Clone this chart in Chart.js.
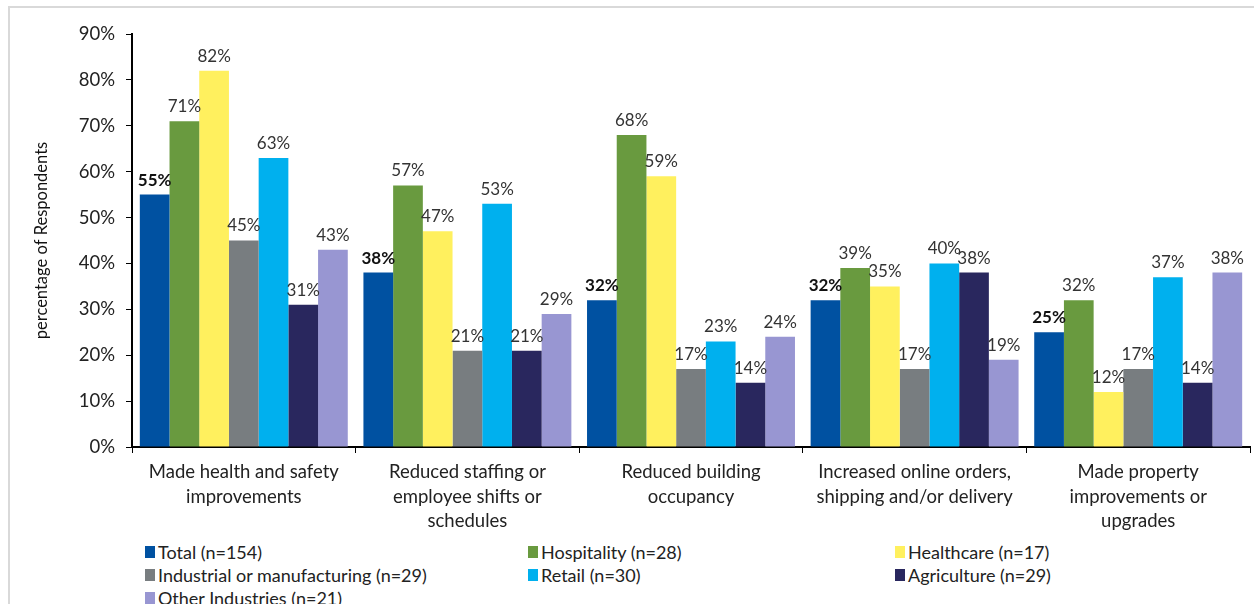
<!DOCTYPE html>
<html>
<head>
<meta charset="utf-8">
<script src="https://cdn.jsdelivr.net/npm/chart.js@4.4.0/dist/chart.umd.min.js"></script>
<style>
  body { margin: 0; background: #fff; font-family: Lato, "Open Sans", sans-serif; }
  #wrap { position: relative; width: 1254px; height: 604px; overflow: hidden; }
  #frame { position: absolute; left: 8px; top: 6px; width: 1250px; height: 610px; border: 2px solid #d9d9d9; box-sizing: border-box; }
  #chartBox { position: absolute; left: 0; top: 0; width: 1254px; height: 540px; }
  #legend { position: absolute; left: 145px; top: 541px; display: grid; grid-template-columns: 383px 367px 300px; row-gap: 1px; font-size: 18px; color: #222; }
  #legend div { display: flex; align-items: center; height: 22px; white-space: nowrap; }
  #legend span { display: inline-block; width: 10px; height: 12px; margin-right: 3px; }
</style>
</head>
<body>
<div id="wrap">
  <div id="frame"></div>
  <div id="chartBox"><canvas id="myChart" width="1254" height="540"></canvas></div>
  <div id="legend"></div>
</div>
<script>
var categories = [
    ["Made health and safety", "improvements"],
    ["Reduced staffing or", "employee shifts or", "schedules"],
    ["Reduced building", "occupancy"],
    ["Increased online orders,", "shipping and/or delivery"],
    ["Made property", "improvements or", "upgrades"]
];
var seriesNames = [
    "Total (n=154)",
    "Hospitality (n=28)",
    "Healthcare (n=17)",
    "Industrial or manufacturing (n=29)",
    "Retail (n=30)",
    "Agriculture (n=29)",
    "Other Industries (n=21)"
];
var total       = [55, 38, 32, 32, 25];
var hospitality = [71, 57, 68, 39, 32];
var healthcare  = [82, 47, 59, 35, 12];
var industrial  = [45, 21, 17, 17, 17];
var retail      = [63, 53, 23, 40, 37];
var agriculture = [31, 21, 14, 38, 14];
var other       = [43, 29, 24, 19, 38];
var yTicks = [0, 10, 20, 30, 40, 50, 60, 70, 80, 90];

var barColors = ["#0051a1", "#699a3f", "#fff05e", "#787d80", "#00b0ee", "#29275e", "#9896d2"];
var seriesValues = [total, hospitality, healthcare, industrial, retail, agriculture, other];

var datasets = seriesValues.map(function (vals, i) {
    return {
        label: seriesNames[i],
        data: vals,
        backgroundColor: barColors[i],
        borderWidth: 0,
        barPercentage: 1.0,
        categoryPercentage: 0.93
    };
});

// value labels above every bar, Total series in bold
var barLabels = {
    id: "barLabels",
    afterDatasetsDraw: function (chart) {
        var ctx = chart.ctx;
        ctx.save();
        ctx.textAlign = "center";
        ctx.textBaseline = "bottom";
        chart.data.datasets.forEach(function (ds, i) {
            var meta = chart.getDatasetMeta(i);
            ctx.font = (i === 0 ? "bold " : "") + "17px Lato, 'Open Sans', sans-serif";
            ctx.fillStyle = i === 0 ? "#111" : "#333";
            meta.data.forEach(function (bar, j) {
                ctx.fillText(ds.data[j] + "%", bar.x, bar.y - 6);
            });
        });
        ctx.restore();
    }
};

new Chart("myChart", {
    type: "bar",
    data: { labels: categories, datasets: datasets },
    plugins: [barLabels],
    options: {
        responsive: false,
        animation: false,
        layout: { padding: { top: 34, right: 4, left: 0, bottom: 0 } },
        plugins: {
            legend: { display: false },
            tooltip: { enabled: false }
        },
        scales: {
            x: {
                grid: { display: true, drawOnChartArea: false, offset: true, tickLength: 6, tickColor: "#000" },
                border: { color: "#000", width: 2 },
                ticks: {
                    color: "#222",
                    padding: 7,
                    maxRotation: 0,
                    autoSkip: false,
                    font: { family: "Lato, 'Open Sans', sans-serif", size: 18.5, lineHeight: 1.32 }
                },
                afterFit: function (s) { s.height = 93; }
            },
            y: {
                min: 0,
                max: 90,
                afterBuildTicks: function (s) { s.ticks = yTicks.map(function (v) { return { value: v }; }); },
                grid: { display: true, drawOnChartArea: false, tickLength: 6, tickColor: "#000" },
                border: { color: "#000", width: 2 },
                ticks: {
                    color: "#222",
                    padding: 11,
                    font: { family: "Lato, 'Open Sans', sans-serif", size: 18.5 },
                    callback: function (v) { return v + "%"; }
                },
                title: {
                    display: true,
                    text: "percentage of Respondents",
                    color: "#111",
                    padding: { top: 32, bottom: 0 },
                    font: { family: "Lato, 'Open Sans', sans-serif", size: 16.5 }
                },
                afterFit: function (s) { s.width = 132; }
            }
        }
    }
});

// legend laid out in three columns below the chart
var legendEl = document.getElementById("legend");
seriesNames.forEach(function (name, i) {
    var item = document.createElement("div");
    var box = document.createElement("span");
    box.style.background = barColors[i];
    item.appendChild(box);
    item.appendChild(document.createTextNode(name));
    legendEl.appendChild(item);
});
</script>
</body>
</html>
